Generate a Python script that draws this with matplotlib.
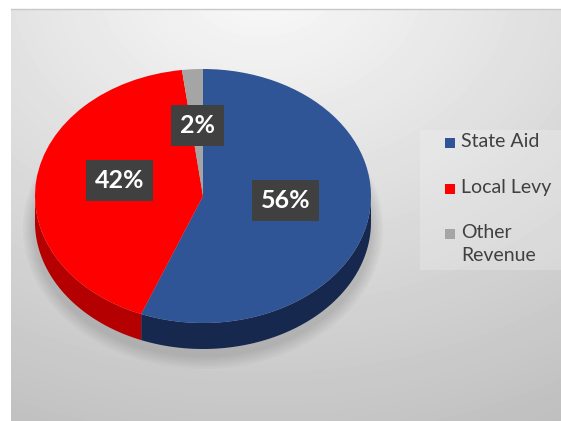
import numpy as np
import matplotlib
matplotlib.use('Agg')
import matplotlib.pyplot as plt
from matplotlib.patches import Polygon, Rectangle, Ellipse
from matplotlib.lines import Line2D

# ---- data ----
categories = ['State Aid', 'Local Levy', 'Other Revenue']
shares = [56, 42, 2]
legend_labels = ['State Aid', 'Local Levy', 'Other\nRevenue']
top_colors = ['#2f5597', '#fe0000', '#a5a5a5']
side_colors = ['#17284e', '#b40000', '#7f7f7f']

plt.rcParams['font.family'] = ['Lato', 'DejaVu Sans']

W, H = 561, 421
fig = plt.figure(figsize=(W / 100, H / 100), dpi=100)
fig.patch.set_facecolor('white')

# ---- background gradient panel ----
left_px, top_px = 11, 9
bg = fig.add_axes([left_px / W, 0, 1 - left_px / W, 1 - top_px / H])
yy, xx = np.mgrid[0:H - top_px, 0:W - left_px]
dist = np.sqrt(((xx - 250) / 560.0) ** 2 + ((yy + 30) / 430.0) ** 2)
img = 0.98 - 0.2 * dist
bg.imshow(img, cmap='gray', vmin=0, vmax=1, aspect='auto',
          extent=[0, 1, 0, 1], origin='upper', interpolation='bilinear')
bg.set_xlim(0, 1)
bg.set_ylim(0, 1)
bg.axis('off')
fig.add_artist(Line2D([left_px / W, 1], [1 - top_px / H, 1 - top_px / H],
                      transform=fig.transFigure, color='#c8c8c8', lw=1.0))

# legend panel (slightly lighter box)
fig.add_artist(Rectangle((420 / W, 1 - 270 / H), (W - 420) / W, 140 / H,
                         transform=fig.transFigure, facecolor='white',
                         alpha=0.2, edgecolor='none'))

# ---- pie axes (elliptical top face) ----
cx, cy, a, b = 203, 196, 168, 127
depth = 26 / b
ax = fig.add_axes([(cx - 1.2 * a) / W, (H - (cy + 1.5 * b)) / H,
                   2.4 * a / W, 2.7 * b / H])
ax.patch.set_alpha(0)

wedges, texts, autotexts = ax.pie(
    shares, colors=top_colors, startangle=90, counterclock=False,
    autopct='%.0f%%', pctdistance=0.5,
    wedgeprops=dict(linewidth=0, zorder=3),
    textprops=dict(color='white', fontsize=18, fontweight='bold', zorder=5))
ax.set_aspect('auto')
ax.set_xlim(-1.2, 1.2)
ax.set_ylim(-1.5, 1.2)
ax.axis('off')

for t in autotexts:
    x0, y0 = t.get_position()
    t.set_position((x0, y0 + 0.06))   # perspective-like lift on the top face
    t.set_bbox(dict(boxstyle='square,pad=0.36', facecolor='#404040',
                    edgecolor='none'))
    t.set_zorder(6)

# soft shadow under the pie
for i in range(6):
    grow = 0.012 * (6 - i)
    ax.add_patch(Ellipse((0, -depth - 0.05), 2 + grow * 2, 2 + grow * 3,
                         facecolor='black', alpha=0.025, edgecolor='none',
                         zorder=0.5))

# side walls (visible front half)
for w, sc in zip(wedges, side_colors):
    t1, t2 = w.theta1, w.theta2
    for k in (-1, 0, 1):
        lo = max(t1, -180 + 360 * k)
        hi = min(t2, 360 * k)
        if hi > lo:
            ts = np.radians(np.linspace(lo, hi, 120))
            xs = np.cos(ts)
            ys = np.sin(ts)
            pts = np.concatenate([np.column_stack([xs, ys]),
                                  np.column_stack([xs[::-1], ys[::-1] - depth])])
            ax.add_patch(Polygon(pts, closed=True, facecolor=sc,
                                 edgecolor='none', zorder=1))

# ---- legend ----
rows_y = [143, 189, 234]
for lab, col, ry in zip(legend_labels, top_colors, rows_y):
    fig.add_artist(Rectangle((445 / W, 1 - (ry + 5) / H), 10 / W, 10 / H,
                             transform=fig.transFigure, facecolor=col,
                             edgecolor='none'))
    fig.text(461 / W, 1 - (ry - 10) / H, lab, ha='left', va='top',
             fontsize=14, color='#404040', linespacing=1.4)

fig.savefig('out.png', dpi=100)
